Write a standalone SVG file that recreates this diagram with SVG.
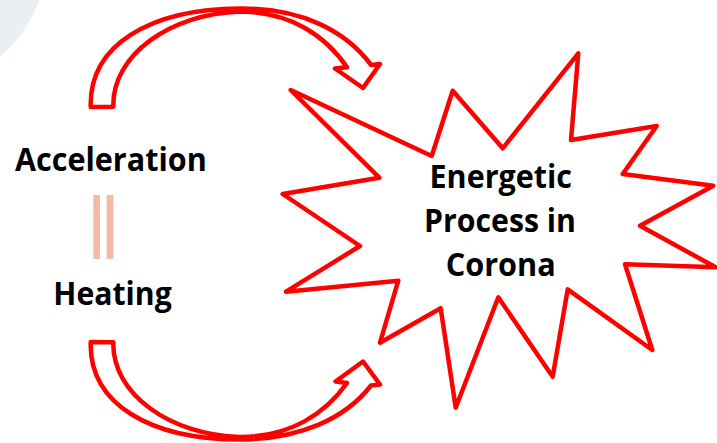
<svg xmlns="http://www.w3.org/2000/svg" width="717" height="443" viewBox="0 0 717 443">
  <style>
    .outline { fill: #ffffff; stroke: #ff0000; stroke-width: 4.5; stroke-linejoin: round; }
    .label { font-family: "Open Sans", "Liberation Sans", sans-serif; font-weight: 700; font-size: 33px; fill: #000000; }
    .bar { fill: #f3bba7; }
  </style>

  <!-- soft backdrop disc in the corner -->
  <circle cx="-87" cy="-45" r="134" fill="#ebeff4"/>

  <g id="connectors">
    <!-- curved arrow over the top -->
    <path class="outline" d="M 90.7 107 C 89 45, 150 9, 240 8.5 C 300 8, 345 30, 371 64.9 L 380 64 L 363 88 L 335 68.5 L 347 67.3 C 325 35, 290 12, 240 11.5 C 170 14, 112 55, 113.3 106.7 Z"/>
    <!-- curved arrow under the bottom -->
    <path class="outline" d="M 90.7 342 C 89 404, 150 439.5, 240 439.5 C 300 439, 345 419, 371 385.5 L 380 384.5 L 363 361.5 L 335.5 381.5 L 347 383 C 325 414, 290 437, 240 437 C 170 435, 112 394, 113.3 342.3 Z"/>
  </g>

  <g id="acceleration">
    <text class="label" x="15" y="170.7" textLength="191.7" lengthAdjust="spacingAndGlyphs">Acceleration</text>
  </g>

  <g id="equals">
    <rect class="bar" x="93.3" y="195" width="6.7" height="64"/>
    <rect class="bar" x="106.7" y="195" width="6.7" height="64"/>
  </g>

  <g id="heating">
    <text class="label" x="53.3" y="305" textLength="118.4" lengthAdjust="spacingAndGlyphs">Heating</text>
  </g>

  <g id="energetic-process">
    <polygon class="outline" points="290.7,90 431.7,156 452.7,90.7 502.7,148.3 578.3,53.3 571,140 656.7,126 622.7,174 713.3,185.7 640,225.7 715.7,267.3 625,264.3 652.3,350 567.7,289.3 552.7,376.7 498.3,297.3 455.7,407.7 440.7,308.3 380,342.7 398.3,280.7 286,291.7 360,246 282.7,194 379.3,177.7"/>
    <text class="label" x="429.5" y="187.5" textLength="142.5" lengthAdjust="spacingAndGlyphs">Energetic</text>
    <text class="label" x="424" y="231.5" textLength="152" lengthAdjust="spacingAndGlyphs">Process in</text>
    <text class="label" x="445.7" y="275.5" textLength="110" lengthAdjust="spacingAndGlyphs">Corona</text>
  </g>
</svg>
